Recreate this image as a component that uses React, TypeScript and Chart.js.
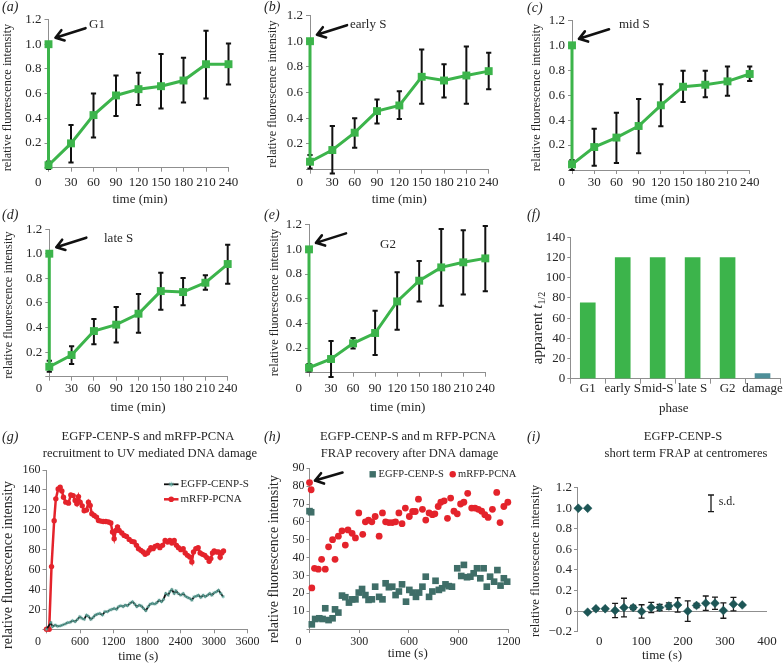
import React, { useEffect, useRef } from "react";
import { Chart, registerables } from "chart.js";

Chart.register(...registerables);

const SERIF = '"Liberation Serif", "Times New Roman", Times, serif';
const AXIS = "#8f8f8f";
const INK = "#262626";
const GREEN = "#3cb44b";
const DAMAGE = "#4e8f99";
const RED = "#e4232b";
const SQUARE_TEAL = "#3f6e68";
const STAR_TEAL = "#5fae a3".replace(" ", "");
const DIAMOND = "#1d5656";

// ---------- panels (a)–(e): relative fluorescence vs time (min) ----------
const timeMin = [0, 0, 30, 60, 90, 120, 150, 180, 210, 240];
const timeTicks = [0, 30, 60, 90, 120, 150, 180, 210, 240];
const relTicks = [0, 0.2, 0.4, 0.6, 0.8, 1.0, 1.2];

const g1Mean = [1.0, 0.02, 0.197, 0.426, 0.585, 0.636, 0.66, 0.706, 0.838, 0.838];
const g1Low = [null, -0.01, 0.043, 0.245, 0.418, 0.507, 0.48, 0.528, 0.56, 0.674];
const g1High = [null, 0.05, 0.345, 0.6, 0.747, 0.768, 0.92, 0.89, 1.108, 1.005];

const earlySMean = [1.0, 0.062, 0.153, 0.288, 0.456, 0.5, 0.723, 0.694, 0.733, 0.767];
const earlySLow = [null, 0.01, -0.03, 0.17, 0.36, 0.394, 0.513, 0.562, 0.513, 0.627];
const earlySHigh = [null, 0.115, 0.34, 0.4, 0.547, 0.61, 0.935, 0.82, 0.958, 0.91];

const midSMean = [1.0, 0.045, 0.184, 0.26, 0.353, 0.519, 0.668, 0.684, 0.711, 0.77];
const midSLow = [null, 0.0, 0.035, 0.056, 0.134, 0.35, 0.545, 0.583, 0.596, 0.714];
const midSHigh = [null, 0.08, 0.33, 0.46, 0.57, 0.687, 0.797, 0.797, 0.83, 0.83];

const lateSMean = [1.0, 0.081, 0.176, 0.371, 0.423, 0.512, 0.696, 0.688, 0.764, 0.916];
const lateSLow = [null, 0.04, 0.103, 0.263, 0.279, 0.358, 0.545, 0.58, 0.707, 0.756];
const lateSHigh = [null, 0.13, 0.247, 0.47, 0.566, 0.672, 0.846, 0.802, 0.824, 1.073];

const g2Mean = [1.0, 0.04, 0.111, 0.238, 0.322, 0.578, 0.746, 0.854, 0.895, 0.927];
const g2Low = [null, 0.01, -0.035, 0.197, 0.143, 0.349, 0.578, 0.543, 0.635, 0.66];
const g2High = [null, 0.07, 0.257, 0.281, 0.503, 0.814, 0.905, 1.165, 1.154, 1.19];

// ---------- panel (f) ----------
const phases = ["G1", "early S", "mid-S", "late S", "G2", "damage"];
const halfTimes = [75, 120, 120, 120, 120, 5];
const fTicks = [0, 20, 40, 60, 80, 100, 120, 140];

// ---------- panel (g) ----------
const gXTicks = [0, 600, 1200, 1800, 2400, 3000, 3600];
const gYTicks = [0, 20, 40, 60, 80, 100, 120, 140, 160];
const gEgfpT = [0, 78, 107, 155, 200, 245, 287, 334, 376, 420, 466, 513, 555, 597, 633, 675, 716, 752, 794, 836, 872, 913, 955, 1003, 1045, 1093, 1134, 1170, 1212, 1254, 1290, 1331, 1373, 1409, 1451, 1493, 1540, 1582, 1618, 1660, 1701, 1737, 1779, 1821, 1857, 1898, 1940, 1976, 2018, 2060, 2096, 2137, 2179, 2209, 2245, 2287, 2317, 2358, 2406, 2448, 2484, 2525, 2567, 2603, 2645, 2687, 2722, 2764, 2806, 2842, 2884, 2925, 2961, 3003, 3045, 3081, 3122, 3164];
const gEgfpV = [0, 6.7, 2.7, 4.3, 3, 3.5, 4.3, 5.3, 6.7, 7, 8.7, 7.7, 10, 12.7, 11, 10, 14.3, 13, 10, 12, 14.3, 15.3, 16, 14.3, 17.7, 17.7, 19.3, 20, 21, 20, 22.7, 23.7, 22.7, 24.3, 23.7, 26, 27.7, 25.3, 22.7, 24.3, 23.3, 21, 18.7, 22.7, 25.3, 26, 25.3, 26.7, 29.3, 27.7, 30, 36, 34.3, 37.7, 40, 36, 38.7, 36, 34.3, 36, 33.3, 32, 31, 29.3, 32.7, 33.3, 34.3, 32, 34.3, 32.7, 34.3, 36, 34.3, 36.7, 37.7, 39.3, 36, 32.7];
const gRfpT = [0, 48, 90, 137, 167, 209, 245, 275, 304, 346, 394, 436, 478, 513, 543, 573, 603, 640, 675, 716, 752, 782, 812, 854, 896, 931, 973, 1015, 1063, 1110, 1152, 1182, 1212, 1242, 1272, 1301, 1349, 1391, 1433, 1481, 1528, 1570, 1612, 1648, 1690, 1731, 1767, 1809, 1839, 1869, 1910, 1946, 1988, 2030, 2078, 2125, 2167, 2209, 2245, 2287, 2328, 2364, 2406, 2448, 2484, 2525, 2567, 2603, 2633, 2675, 2716, 2752, 2794, 2836, 2872, 2913, 2943, 2973, 3003, 3045, 3081, 3110, 3140, 3170];
const gRfpV = [0, 0, 63, 109, 131, 141, 142.7, 139, 132.7, 127.7, 126.7, 135, 134.3, 129.3, 126, 133.3, 127.7, 124, 119, 119.7, 127.7, 124.3, 116, 114.3, 112.7, 109.3, 108.7, 108.3, 108.3, 107.7, 106.7, 97.7, 91, 99.3, 102.7, 99.3, 96.7, 94.3, 93.3, 90.3, 88.3, 87.7, 84.3, 81, 79.3, 77.7, 75.3, 76.7, 79.3, 82, 81, 83.3, 84.3, 82, 84.3, 89.3, 87.7, 89.3, 86.7, 89.3, 84.3, 82, 80, 81, 76.7, 74.3, 72.7, 67.7, 77.7, 81, 82, 76.7, 75.3, 74.3, 72, 68.3, 71, 76.7, 78.7, 77.7, 77.7, 72.3, 76.7, 78.7];

// ---------- panel (h) ----------
const hXTicks = [0, 300, 600, 900, 1200];
const hYTicks = [0, 10, 20, 30, 40, 50, 60, 70, 80, 90];
const hEgfpT = [0, 10, 14, 34, 59, 79, 95, 115, 139, 154, 174, 196, 216, 238, 257, 277, 297, 317, 337, 356, 376, 396, 420, 440, 459, 479, 499, 519, 539, 558, 582, 602, 622, 642, 661, 681, 701, 721, 741, 760, 780, 800, 820, 840, 859, 891, 915, 931, 950, 970, 990, 1010, 1030, 1050, 1069, 1089, 1113, 1133, 1152, 1172, 1192];
const hEgfpV = [66, 65.4, 2.6, 5.6, 6, 5.6, 11.6, 5, 6, 11, 9.2, 18.7, 17.8, 14.8, 16.6, 16.6, 20.4, 22.4, 19, 16.3, 16.6, 23.7, 18, 16.6, 25.6, 23.4, 23.7, 19, 21, 25, 15.3, 21.9, 20.4, 18, 20.4, 23.7, 29.3, 18, 21, 27, 21.9, 22.8, 25, 24, 23.7, 34, 29.7, 35.9, 29, 29.3, 31.2, 34, 28.4, 34, 23.7, 29.3, 26.5, 33, 24.3, 28.4, 26.5];
const hRfpT = [0, 10, 14, 30, 53, 73, 95, 115, 139, 154, 174, 196, 216, 232, 257, 277, 297, 321, 337, 356, 376, 396, 420, 440, 459, 479, 499, 519, 539, 558, 578, 602, 622, 638, 657, 681, 701, 721, 741, 756, 776, 792, 812, 832, 851, 871, 891, 911, 931, 954, 978, 998, 1018, 1038, 1057, 1077, 1103, 1129, 1149, 1172, 1196];
const hRfpV = [82, 78, 23, 34, 33.5, 39, 33.5, 46, 50, 39, 52, 55, 47, 55.5, 53.6, 51, 65, 53, 60, 61, 60, 63, 52, 65, 60, 59.6, 59.6, 60, 65, 59, 67.7, 63, 65.8, 65.8, 72.7, 67, 61, 65, 64, 64.5, 68.6, 71, 71.8, 62, 73.3, 66, 64.5, 70, 71, 76, 67.7, 67.7, 67, 66, 64, 62.5, 67, 76.5, 59.6, 68.6, 71];

// ---------- panel (i) ----------
const iXTicks = [0, 100, 200, 300, 400];
const iYTicks = [-0.2, 0, 0.2, 0.4, 0.6, 0.8, 1.0, 1.2];
const iTime = [-50, -27.6, -27.6, -7.9, 14.2, 37.8, 59, 81, 101, 124, 144, 166, 187, 211, 232, 254, 276, 296, 320, 341];
const iValue = [1, 1, -0.01, 0.023, 0.023, 0.006, 0.035, 0.035, -0.003, 0.035, 0.035, 0.05, 0.06, 0, 0.055, 0.077, 0.077, 0.006, 0.068, 0.06];
const iSd = [0, 0, 0, 0.01, 0.01, 0.07, 0.09, 0.02, 0.065, 0.05, 0.03, 0.03, 0.07, 0.1, 0.02, 0.07, 0.06, 0.075, 0.065, 0];

// ---------- helpers ----------
function fnt(size: number, italic = false) {
  return `${italic ? "italic " : ""}${size}px ${SERIF}`;
}

function drawText(ctx: any, s: string, x: number, y: number, size: number, o: any = {}) {
  ctx.save();
  ctx.font = fnt(size, o.italic);
  ctx.fillStyle = o.color || INK;
  ctx.textAlign = o.align || "center";
  ctx.textBaseline = "middle";
  ctx.translate(x, y);
  if (o.rot) ctx.rotate(-Math.PI / 2);
  ctx.fillText(s, 0, 0);
  ctx.restore();
}

function drawRichRot(ctx: any, segs: any[], x: number, y: number) {
  ctx.save();
  ctx.translate(x, y);
  ctx.rotate(-Math.PI / 2);
  let total = 0;
  for (const s of segs) {
    ctx.font = fnt(s.size, s.italic);
    total += ctx.measureText(s.t).width;
  }
  let pos = -total / 2;
  ctx.fillStyle = INK;
  ctx.textAlign = "left";
  ctx.textBaseline = "alphabetic";
  const base = segs[0].size * 0.35;
  for (const s of segs) {
    ctx.font = fnt(s.size, s.italic);
    ctx.fillText(s.t, pos, base + (s.dy || 0));
    pos += ctx.measureText(s.t).width;
  }
  ctx.restore();
}

function drawArrow(ctx: any, x1: number, y1: number, x2: number, y2: number) {
  const ang = Math.atan2(y2 - y1, x2 - x1);
  const hl = 9.5;
  const ha = 0.6;
  ctx.save();
  ctx.strokeStyle = "#111";
  ctx.lineWidth = 2.6;
  ctx.lineCap = "round";
  ctx.lineJoin = "round";
  ctx.beginPath();
  ctx.moveTo(x1, y1);
  ctx.lineTo(x2, y2);
  ctx.moveTo(x2 - hl * Math.cos(ang - ha), y2 - hl * Math.sin(ang - ha));
  ctx.lineTo(x2, y2);
  ctx.lineTo(x2 - hl * Math.cos(ang + ha), y2 - hl * Math.sin(ang + ha));
  ctx.stroke();
  ctx.restore();
}

function frameOpts(cx: number, cy: number, w: number, h: number, L: number, T: number, R: number, B: number) {
  return {
    padding: { left: 0, top: T - cy, right: cx + w - R, bottom: 0 },
    yW: L - cx,
    xH: cy + h - B,
  };
}

function linearAxis(o: any) {
  return {
    type: "linear",
    min: o.min,
    max: o.max,
    afterBuildTicks: (s: any) => {
      s.ticks = o.ticks.map((v: number) => ({ value: v }));
    },
    afterFit: (s: any) => {
      if (o.horizontal) s.height = o.fit;
      else s.width = o.fit;
    },
    ticks: {
      font: { family: SERIF, size: o.size },
      color: INK,
      padding: o.pad,
      autoSkip: false,
      maxRotation: 0,
      minRotation: 0,
      callback: (v: number) => o.fmt(v),
    },
    grid: {
      display: true,
      drawOnChartArea: !!o.gridColor,
      drawTicks: o.drawTicks !== false,
      tickLength: o.tickLen,
      color: o.gridColor || AXIS,
      tickColor: AXIS,
      lineWidth: 1,
    },
    border: { display: o.border !== false, color: AXIS, width: 1 },
  };
}

function overlay(cx: number, cy: number, draw: any) {
  return {
    id: "overlay",
    afterDraw(chart: any) {
      const ctx = chart.ctx;
      ctx.save();
      ctx.translate(-cx, -cy);
      const X = (v: number) => chart.scales.x.getPixelForValue(v) + cx;
      const Y = (v: number) => chart.scales.y.getPixelForValue(v) + cy;
      draw(ctx, X, Y, chart);
      ctx.restore();
    },
  };
}

function errorBars(xs: number[], lo: any[], hi: any[], color: string, lw: number, cap: number) {
  return {
    id: "errorBars",
    beforeDatasetsDraw(chart: any) {
      const ctx = chart.ctx;
      const sx = chart.scales.x;
      const sy = chart.scales.y;
      ctx.save();
      ctx.strokeStyle = color;
      ctx.lineWidth = lw;
      for (let i = 0; i < xs.length; i++) {
        if (lo[i] == null || hi[i] == null) continue;
        const px = sx.getPixelForValue(xs[i]);
        const y1 = sy.getPixelForValue(lo[i]);
        const y2 = sy.getPixelForValue(hi[i]);
        ctx.beginPath();
        ctx.moveTo(px, y1);
        ctx.lineTo(px, y2);
        ctx.moveTo(px - cap, y1);
        ctx.lineTo(px + cap, y1);
        ctx.moveTo(px - cap, y2);
        ctx.lineTo(px + cap, y2);
        ctx.stroke();
      }
      ctx.restore();
    },
  };
}

const baseOptions = {
  responsive: false,
  animation: false,
  devicePixelRatio: 1,
  events: [],
  plugins: { legend: { display: false }, tooltip: { enabled: false }, title: { display: false } },
};

// ---------- panel specs (a)–(e) ----------
const kineticPanels = [
  { cx: 0, cy: 0, h: 212, L: 48.5, T: 19.5, R: 228.5, B: 167.7, xLabelY: 182.7, mean: g1Mean, low: g1Low, high: g1High, tag: "(a)", tagX: 2, tagY: 7.5, phase: "G1", phaseX: 89, phaseY: 25, xTitle: [140, 200], yTitle: [7.5, 97.5] },
  { cx: 261, cy: 0, h: 212, L: 310, T: 15.5, R: 488.7, B: 169.7, xLabelY: 182.7, mean: earlySMean, low: earlySLow, high: earlySHigh, tag: "(b)", tagX: 264, tagY: 7.5, phase: "early S", phaseX: 350, phaseY: 25, xTitle: [399.3, 200], yTitle: [272.7, 94] },
  { cx: 522, cy: 0, h: 212, L: 572, T: 20.4, R: 749.7, B: 170, xLabelY: 182.7, mean: midSMean, low: midSLow, high: midSHigh, tag: "(c)", tagX: 527, tagY: 8.3, phase: "mid S", phaseX: 619, phaseY: 25, xTitle: [662, 200], yTitle: [537, 97.5] },
  { cx: 0, cy: 205, h: 215, L: 49.3, T: 229.1, R: 227.7, B: 376.7, xLabelY: 388.3, mean: lateSMean, low: lateSLow, high: lateSHigh, tag: "(d)", tagX: 2, tagY: 215, phase: "late S", phaseX: 104, phaseY: 238.3, xTitle: [138, 407.7], yTitle: [8.3, 305] },
  { cx: 261, cy: 205, h: 215, L: 309, T: 224.7, R: 485.3, B: 372.7, xLabelY: 388.3, mean: g2Mean, low: g2Low, high: g2High, tag: "(e)", tagX: 264, tagY: 215, phase: "G2", phaseX: 380, phaseY: 245, xTitle: [397.7, 407.7], yTitle: [274.3, 302.5] },
];

function kineticConfig(p: any) {
  const w = 261;
  const fr = frameOpts(p.cx, p.cy, w, p.h, p.L, p.T, p.R, p.B);
  return {
    type: "line",
    data: {
      datasets: [
        {
          data: timeMin.map((t, i) => ({ x: t, y: p.mean[i] })),
          borderColor: GREEN,
          borderWidth: 3,
          pointStyle: "rect",
          pointRadius: 5.6,
          pointBackgroundColor: GREEN,
          pointBorderColor: GREEN,
          pointBorderWidth: 0,
          tension: 0,
          clip: false,
        },
      ],
    },
    options: {
      ...baseOptions,
      layout: { autoPadding: false, padding: fr.padding },
      scales: {
        x: linearAxis({ min: 0, max: 240, ticks: timeTicks, size: 13, fmt: (v: number) => (v === 0 ? "" : String(v)), tickLen: 4, pad: p.xLabelY - p.B - 4 - 7.8, fit: fr.xH, horizontal: true }),
        y: linearAxis({ min: 0, max: 1.2, ticks: relTicks, size: 13, fmt: (v: number) => (v === 0 ? "" : v.toFixed(1)), tickLen: 4, pad: 3, fit: fr.yW }),
      },
    },
    plugins: [
      errorBars(timeMin, p.low, p.high, "#111", 2, 2.6),
      overlay(p.cx, p.cy, (ctx: any, X: any, Y: any) => {
        drawText(ctx, p.tag, p.tagX, p.tagY, 14, { align: "left", italic: true });
        drawText(ctx, p.phase, p.phaseX, p.phaseY, 13, { align: "left" });
        const ax = X(timeMin[0]);
        const ay = Y(p.mean[0]);
        drawArrow(ctx, ax + 37, ay - 16, ax + 7, ay - 6.5);
        drawText(ctx, "time (min)", p.xTitle[0], p.xTitle[1], 13);
        drawText(ctx, "relative fluorescence intensity", p.yTitle[0], p.yTitle[1], 12.3, { rot: true });
        drawText(ctx, "0", X(0) - 7, p.xLabelY, 13, { align: "right" });
      }),
    ],
  };
}

function fConfig() {
  const cx = 522, cy = 205, w = 261, h = 215;
  const B = 378.7;
  const fr = frameOpts(cx, cy, w, h, 570.3, 237.3, 780, B);
  return {
    type: "bar",
    data: {
      labels: phases,
      datasets: [
        {
          data: halfTimes,
          backgroundColor: phases.map((p) => (p === "damage" ? DAMAGE : GREEN)),
          borderWidth: 0,
          barThickness: 15,
        },
      ],
    },
    options: {
      ...baseOptions,
      layout: { autoPadding: false, padding: fr.padding },
      scales: {
        x: {
          type: "category",
          afterFit: (s: any) => {
            s.height = fr.xH;
          },
          ticks: { font: { family: SERIF, size: 13 }, color: INK, padding: 388.3 - B - 5 - 7.8, autoSkip: false, maxRotation: 0, minRotation: 0 },
          grid: { display: true, drawOnChartArea: false, offset: true, drawTicks: true, tickLength: 5, color: AXIS, tickColor: AXIS },
          border: { display: true, color: AXIS, width: 1 },
        },
        y: linearAxis({ min: 0, max: 140, ticks: fTicks, size: 13, fmt: (v: number) => String(v), tickLen: 3, pad: 2, fit: fr.yW }),
      },
    },
    plugins: [
      overlay(cx, cy, (ctx: any) => {
        drawText(ctx, "(f)", 527, 215, 14, { align: "left", italic: true });
        drawText(ctx, "phase", 673.7, 408.3, 13);
        drawRichRot(
          ctx,
          [
            { t: "apparent ", size: 15 },
            { t: "t", size: 15, italic: true },
            { t: "1/2", size: 10, dy: 3 },
          ],
          537,
          328
        );
      }),
    ],
  };
}

function gConfig() {
  const cx = 0, cy = 425, w = 261, h = 238;
  const B = 629.3;
  const fr = frameOpts(cx, cy, w, h, 46.5, 470, 247.5, B);
  return {
    type: "line",
    data: {
      datasets: [
        {
          data: gEgfpT.map((t, i) => ({ x: t, y: gEgfpV[i] })),
          borderColor: "#0d0d0d",
          borderWidth: 1.8,
          pointStyle: "star",
          pointRadius: 1.8,
          pointBorderColor: STAR_TEAL,
          pointBackgroundColor: STAR_TEAL,
          pointBorderWidth: 0.6,
          tension: 0,
          clip: false,
        },
        {
          data: gRfpT.map((t, i) => ({ x: t, y: gRfpV[i] })),
          borderColor: RED,
          borderWidth: 2.5,
          pointStyle: "circle",
          pointRadius: 2.7,
          pointBackgroundColor: RED,
          pointBorderColor: RED,
          pointBorderWidth: 0,
          tension: 0,
          clip: false,
        },
      ],
    },
    options: {
      ...baseOptions,
      layout: { autoPadding: false, padding: fr.padding },
      scales: {
        x: linearAxis({ min: 0, max: 3600, ticks: gXTicks, size: 12, fmt: (v: number) => (v === 0 ? "" : String(v)), tickLen: 4, pad: 641.7 - B - 4 - 7.2, fit: fr.xH, horizontal: true }),
        y: linearAxis({ min: 0, max: 160, ticks: gYTicks, size: 12, fmt: (v: number) => (v === 0 ? "" : String(v)), tickLen: 4, pad: 2, fit: fr.yW }),
      },
    },
    plugins: [
      overlay(cx, cy, (ctx: any, X: any) => {
        drawText(ctx, "(g)", 2, 437, 14, { align: "left", italic: true });
        drawText(ctx, "EGFP-CENP-S and mRFP-PCNA", 148, 437, 12.6);
        drawText(ctx, "recruitment to UV mediated DNA damage", 150, 454, 12.6);
        drawText(ctx, "time (s)", 138.3, 656.7, 13);
        drawText(ctx, "relative fluorescence intensity", 8.3, 565, 14, { rot: true });
        drawText(ctx, "0", X(0) - 5.5, 641.7, 12, { align: "right" });
        // legend
        ctx.save();
        ctx.strokeStyle = "#0d0d0d";
        ctx.lineWidth = 1.8;
        ctx.beginPath();
        ctx.moveTo(164, 484.3);
        ctx.lineTo(178.5, 484.3);
        ctx.stroke();
        ctx.strokeStyle = STAR_TEAL;
        ctx.lineWidth = 0.7;
        ctx.beginPath();
        for (let k = 0; k < 4; k++) {
          const a = (k * Math.PI) / 4;
          ctx.moveTo(171.2 - 2.6 * Math.cos(a), 484.3 - 2.6 * Math.sin(a));
          ctx.lineTo(171.2 + 2.6 * Math.cos(a), 484.3 + 2.6 * Math.sin(a));
        }
        ctx.stroke();
        ctx.strokeStyle = RED;
        ctx.lineWidth = 2.5;
        ctx.beginPath();
        ctx.moveTo(164, 499.3);
        ctx.lineTo(178.5, 499.3);
        ctx.stroke();
        ctx.fillStyle = RED;
        ctx.beginPath();
        ctx.arc(171.2, 499.3, 2.8, 0, Math.PI * 2);
        ctx.fill();
        ctx.restore();
        drawText(ctx, "EGFP-CENP-S", 180.5, 484.3, 11, { align: "left" });
        drawText(ctx, "mRFP-PCNA", 180.5, 499.3, 11, { align: "left" });
      }),
    ],
  };
}

function hConfig() {
  const cx = 261, cy = 425, w = 261, h = 238;
  const B = 629;
  const fr = frameOpts(cx, cy, w, h, 309.5, 468.3, 512.5, B);
  return {
    type: "scatter",
    data: {
      datasets: [
        {
          data: hEgfpT.map((t, i) => ({ x: t, y: hEgfpV[i] })),
          pointStyle: "rect",
          pointRadius: 4.7,
          pointBackgroundColor: SQUARE_TEAL,
          pointBorderColor: SQUARE_TEAL,
          pointBorderWidth: 0,
          showLine: false,
          clip: false,
        },
        {
          data: hRfpT.map((t, i) => ({ x: t, y: hRfpV[i] })),
          pointStyle: "circle",
          pointRadius: 3.4,
          pointBackgroundColor: RED,
          pointBorderColor: RED,
          pointBorderWidth: 0,
          showLine: false,
          clip: false,
        },
      ],
    },
    options: {
      ...baseOptions,
      layout: { autoPadding: false, padding: fr.padding },
      scales: {
        x: linearAxis({ min: 0, max: 1200, ticks: hXTicks, size: 12, fmt: (v: number) => (v === 0 ? "" : String(v)), tickLen: 4, pad: 641.7 - B - 4 - 7.2, fit: fr.xH, horizontal: true }),
        y: linearAxis({ min: 0, max: 90, ticks: hYTicks, size: 12, fmt: (v: number) => (v === 0 ? "" : String(v)), tickLen: 3, pad: 2, fit: fr.yW }),
      },
    },
    plugins: [
      overlay(cx, cy, (ctx: any, X: any, Y: any) => {
        drawText(ctx, "(h)", 264, 437, 14, { align: "left", italic: true });
        drawText(ctx, "EGFP-CENP-S and m RFP-PCNA", 408, 437, 12.6);
        drawText(ctx, "FRAP recovery after DNA damage", 409.5, 454, 12.6);
        drawText(ctx, "time (s)", 407.7, 653.3, 13);
        drawText(ctx, "relative fluorescence intensity", 274.3, 559, 14, { rot: true });
        drawText(ctx, "0", X(0) - 8, 641.7, 12, { align: "right" });
        const ax = X(hRfpT[0]);
        const ay = Y(hRfpV[0]);
        drawArrow(ctx, ax + 33, ay - 10, ax + 5.5, ay - 2);
        ctx.save();
        ctx.fillStyle = SQUARE_TEAL;
        ctx.fillRect(369.5, 471.1, 6.4, 6.4);
        ctx.fillStyle = RED;
        ctx.beginPath();
        ctx.arc(452.7, 474.3, 3.2, 0, Math.PI * 2);
        ctx.fill();
        ctx.restore();
        drawText(ctx, "EGFP-CENP-S", 378.5, 474.3, 10.5, { align: "left" });
        drawText(ctx, "mRFP-PCNA", 458, 474.3, 10.5, { align: "left" });
      }),
    ],
  };
}

function iConfig() {
  const cx = 522, cy = 425, w = 261, h = 238;
  const B = 631.7;
  const fr = frameOpts(cx, cy, w, h, 577, 487.7, 767, B);
  const lo = iValue.map((v, k) => (iSd[k] > 0 ? v - iSd[k] : null));
  const hi = iValue.map((v, k) => (iSd[k] > 0 ? v + iSd[k] : null));
  return {
    type: "scatter",
    data: {
      datasets: [
        {
          data: iTime.map((t, k) => ({ x: t, y: iValue[k] })),
          pointStyle: "rectRot",
          pointRadius: 4.4,
          pointBackgroundColor: DIAMOND,
          pointBorderColor: DIAMOND,
          pointBorderWidth: 0.5,
          showLine: false,
          clip: false,
        },
      ],
    },
    options: {
      ...baseOptions,
      layout: { autoPadding: false, padding: fr.padding },
      scales: {
        x: linearAxis({ min: -53, max: 400, ticks: iXTicks, size: 13, fmt: (v: number) => String(v), tickLen: 0, drawTicks: false, border: false, pad: 641.7 - B - 7.8, fit: fr.xH, horizontal: true, gridColor: "rgba(0,0,0,0)" }),
        y: linearAxis({
          min: -0.2,
          max: 1.2,
          ticks: iYTicks,
          size: 13,
          fmt: (v: number) => (Math.abs(v) < 1e-9 ? "0" : v < 0 ? "\u2212" + Math.abs(v).toFixed(1) : v.toFixed(1)),
          tickLen: 3,
          pad: 2,
          fit: fr.yW,
          gridColor: (c: any) => (c.tick && Math.abs(c.tick.value) < 1e-9 ? AXIS : "rgba(0,0,0,0)"),
        }),
      },
    },
    plugins: [
      errorBars(iTime, lo, hi, "#1a1a1a", 1.3, 3),
      overlay(cx, cy, (ctx: any) => {
        drawText(ctx, "(i)", 527, 437, 14, { align: "left", italic: true });
        drawText(ctx, "EGFP-CENP-S", 683, 437, 12.6);
        drawText(ctx, "short term FRAP at centromeres", 686, 454, 12.6);
        drawText(ctx, "time (s)", 662, 656, 13);
        drawText(ctx, "relative fluorescence intensity", 535.3, 561, 12.7, { rot: true });
        ctx.save();
        ctx.strokeStyle = "#1a1a1a";
        ctx.lineWidth = 1.3;
        ctx.beginPath();
        ctx.moveTo(711, 495);
        ctx.lineTo(711, 511.7);
        ctx.moveTo(708, 495);
        ctx.lineTo(714, 495);
        ctx.moveTo(708, 511.7);
        ctx.lineTo(714, 511.7);
        ctx.stroke();
        ctx.restore();
        drawText(ctx, "s.d.", 718.7, 502, 12, { align: "left" });
      }),
    ],
  };
}

function ChartCanvas({ x, y, w, h, make }: any) {
  const ref = useRef<HTMLCanvasElement>(null);
  useEffect(() => {
    const chart = new Chart(ref.current as HTMLCanvasElement, make());
    return () => chart.destroy();
  }, []);
  return <canvas ref={ref} width={w} height={h} style={{ position: "absolute", left: x, top: y, width: w, height: h }} />;
}

export default function App() {
  return (
    <div style={{ position: "absolute", left: 0, top: 0, width: 783, height: 663, background: "#fff", overflow: "hidden" }}>
      {kineticPanels.map((p, k) => (
        <ChartCanvas key={k} x={p.cx} y={p.cy} w={261} h={p.h} make={() => kineticConfig(p)} />
      ))}
      <ChartCanvas x={522} y={205} w={261} h={215} make={fConfig} />
      <ChartCanvas x={0} y={425} w={261} h={238} make={gConfig} />
      <ChartCanvas x={261} y={425} w={261} h={238} make={hConfig} />
      <ChartCanvas x={522} y={425} w={261} h={238} make={iConfig} />
    </div>
  );
}
